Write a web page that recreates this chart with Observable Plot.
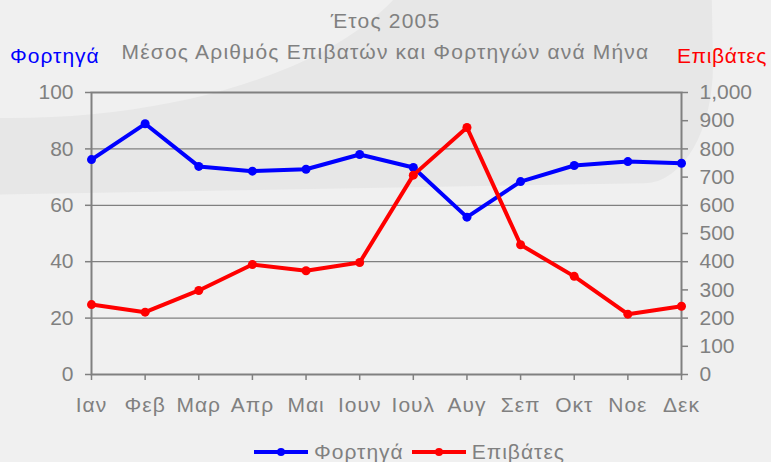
<!DOCTYPE html>
<html>
<head>
<meta charset="utf-8">
<script src="https://cdn.jsdelivr.net/npm/d3@7"></script>
<script src="https://cdn.jsdelivr.net/npm/@observablehq/plot@0.6"></script>
<style>
  html, body { margin: 0; padding: 0; background: #f0f0f0; }
  #wrap { position: relative; width: 771px; height: 462px; overflow: hidden; background: #f0f0f0; font-family: "Liberation Sans", Arial, sans-serif; }
  .bg1 { position: absolute; left: -200px; top: -400px; width: 915px; height: 582px; background: #e7e7e7; border-bottom-right-radius: 70px 120px; transform: rotate(-1deg); transform-origin: 100% 100%; }
  .bg2 { position: absolute; left: -300px; top: -500px; width: 730px; height: 618px; background: #f0f0f0; border-bottom-right-radius: 420px 200px; }
  .txt { position: absolute; white-space: nowrap; font-size: 21px; line-height: 1; color: #808080; }
  #chart { position: absolute; left: 0; top: 0; }
  #chart g[aria-label="x-axis tick label"] text { letter-spacing: 1px; }
  .legend { position: absolute; top: 440px; left: 254px; display: flex; align-items: center; font-size: 21px; color: #808080; letter-spacing: 1px; }
  .legend .item { display: flex; align-items: center; margin-right: 8px; }
  .legend svg { margin-right: 6px; }
</style>
</head>
<body>
<div id="wrap">
  <div class="bg1"></div>
  <div class="bg2"></div>
  <div id="chart"></div>
  <div class="txt" id="title"></div>
  <div class="txt" id="subtitle"></div>
  <div class="txt" id="leftLabel"></div>
  <div class="txt" id="rightLabel"></div>
  <div class="legend" id="legend"></div>
</div>
<script>
const titleText = "Έτος 2005";
const subtitleText = "Μέσος Αριθμός Επιβατών και Φορτηγών ανά Μήνα";
const seriesNames = ["Φορτηγά", "Επιβάτες"];
const seriesColors = ["#0000ff", "#ff0000"];
const months = ["Ιαν","Φεβ","Μαρ","Απρ","Μαι","Ιουν","Ιουλ","Αυγ","Σεπ","Οκτ","Νοε","Δεκ"];
const trucks = [76.2, 88.9, 73.8, 72.1, 72.8, 78.0, 73.4, 55.8, 68.4, 74.1, 75.5, 74.9];
const passengers = [248, 221, 298, 390, 368, 397, 707, 876, 460, 348, 214, 242];
const leftTicks = [0, 20, 40, 60, 80, 100];
const rightTicks = [0, 100, 200, 300, 400, 500, 600, 700, 800, 900, 1000];
const gridTicks = [20, 40, 60, 80];
const ratio = 10; // right axis (Επιβάτες) = left axis × 10

const truckData = months.map((m, i) => ({month: m, value: trucks[i]}));
const passData = months.map((m, i) => ({month: m, value: passengers[i]}));

const gray = "#808080";
const chart = Plot.plot({
  width: 771,
  height: 462,
  marginTop: 92,
  marginBottom: 88,
  marginLeft: 91,
  marginRight: 90,
  style: {background: "transparent", fontFamily: "Liberation Sans, Arial, sans-serif", fontSize: "21px", color: gray},
  x: {type: "point", domain: months, padding: 0, round: false},
  y: {domain: [0, 100]},
  marks: [
    Plot.gridY(gridTicks, {stroke: gray, strokeOpacity: 1, strokeWidth: 1.2}),
    Plot.frame({stroke: gray, strokeWidth: 2}),
    Plot.axisY(leftTicks, {anchor: "left", tickSize: 6, tickPadding: 12, stroke: gray, strokeWidth: 1.5, fill: gray, label: null, fontSize: 21}),
    Plot.axisY(rightTicks.map(v => v / ratio), {anchor: "right", tickSize: 6, tickPadding: 12, stroke: gray, strokeWidth: 1.5, fill: gray, label: null, fontSize: 21, tickFormat: d => d3.format(",")(Math.round(d * ratio))}),
    Plot.axisX({anchor: "bottom", tickSize: 6, tickPadding: 17, stroke: gray, strokeWidth: 1.5, fill: gray, label: null, fontSize: 21}),
    Plot.line(truckData, {x: "month", y: "value", stroke: seriesColors[0], strokeWidth: 4}),
    Plot.dot(truckData, {x: "month", y: "value", fill: seriesColors[0], r: 4.5}),
    Plot.line(passData, {x: "month", y: d => d.value / ratio, stroke: seriesColors[1], strokeWidth: 4}),
    Plot.dot(passData, {x: "month", y: d => d.value / ratio, fill: seriesColors[1], r: 4.5})
  ]
});
document.getElementById("chart").append(chart);

function place(id, text, opts) {
  const el = document.getElementById(id);
  el.textContent = text;
  Object.assign(el.style, opts);
}
place("title", titleText, {left: "0px", width: "771px", textAlign: "center", top: "10px", letterSpacing: "1.2px"});
place("subtitle", subtitleText, {left: "0px", width: "771px", textAlign: "center", top: "41px", letterSpacing: "1.2px"});
place("leftLabel", seriesNames[0], {left: "10px", top: "45px", color: seriesColors[0], letterSpacing: "1px"});
place("rightLabel", seriesNames[1], {left: "677px", top: "45px", color: seriesColors[1], letterSpacing: "0.6px"});

const legend = document.getElementById("legend");
seriesNames.forEach((name, i) => {
  const item = document.createElement("div");
  item.className = "item";
  const sw = d3.create("svg").attr("width", 54).attr("height", 12);
  sw.append("line").attr("x1", 0).attr("x2", 54).attr("y1", 6).attr("y2", 6).attr("stroke", seriesColors[i]).attr("stroke-width", 4);
  sw.append("circle").attr("cx", 27).attr("cy", 6).attr("r", 4).attr("fill", seriesColors[i]);
  item.append(sw.node());
  const t = document.createElement("span");
  t.textContent = name;
  item.append(t);
  legend.append(item);
});
</script>
</body>
</html>
